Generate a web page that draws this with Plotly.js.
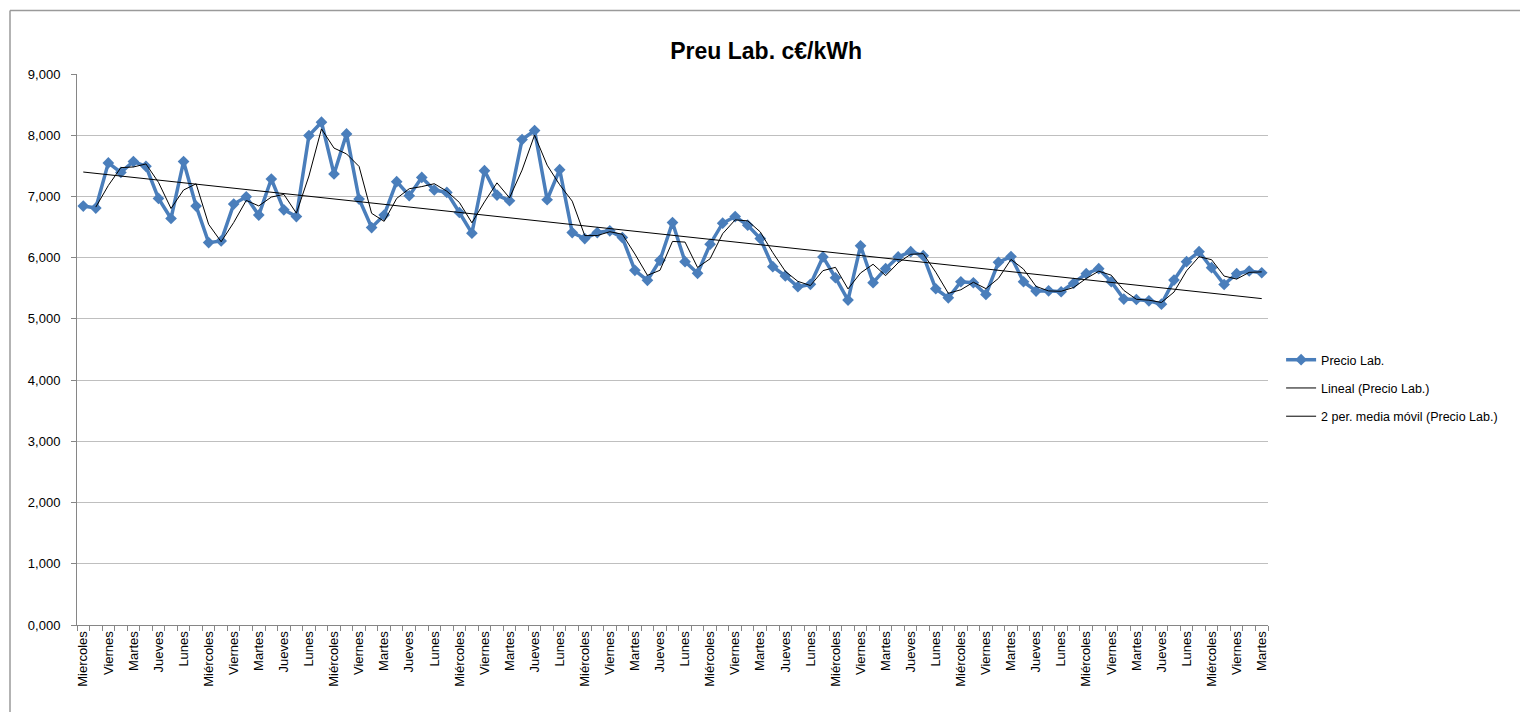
<!DOCTYPE html>
<html>
<head>
<meta charset="utf-8">
<script src="https://cdn.plot.ly/plotly-3.0.1.min.js"></script>
<style>
html,body{margin:0;padding:0;background:#fff;}
#chart{width:1520px;height:712px;}
</style>
</head>
<body>
<div id="chart"></div>
<script>
// Categories (working days), one per data point
const categorias = [
 "Miercoles","Jueves","Viernes","Lunes","Martes",
 "Miércoles","Jueves","Viernes","Lunes","Martes",
 "Miércoles","Jueves","Viernes","Lunes","Martes",
 "Miércoles","Jueves","Viernes","Lunes","Martes",
 "Miércoles","Jueves","Viernes","Lunes","Martes",
 "Miércoles","Jueves","Viernes","Lunes","Martes",
 "Miércoles","Jueves","Viernes","Lunes","Martes",
 "Miércoles","Jueves","Viernes","Lunes","Martes",
 "Miércoles","Jueves","Viernes","Lunes","Martes",
 "Miércoles","Jueves","Viernes","Lunes","Martes",
 "Miércoles","Jueves","Viernes","Lunes","Martes",
 "Miércoles","Jueves","Viernes","Lunes","Martes",
 "Miércoles","Jueves","Viernes","Lunes","Martes",
 "Miércoles","Jueves","Viernes","Lunes","Martes",
 "Miércoles","Jueves","Viernes","Lunes","Martes",
 "Miércoles","Jueves","Viernes","Lunes","Martes",
 "Miércoles","Jueves","Viernes","Lunes","Martes",
 "Miércoles","Jueves","Viernes","Lunes","Martes",
 "Miércoles","Jueves","Viernes","Lunes","Martes"
];

// Precio Lab. (c€/kWh)
const precioLab = [
 6.843, 6.810, 7.548, 7.393, 7.570, 7.492, 6.967, 6.640, 7.570, 6.843,
 6.246, 6.274, 6.875, 6.995, 6.695, 7.285, 6.782, 6.672, 7.995, 8.213,
 7.367, 8.022, 6.957, 6.492, 6.695, 7.241, 7.011, 7.311, 7.105, 7.066,
 6.738, 6.400, 7.421, 7.023, 6.930, 7.929, 8.076, 6.946, 7.437, 6.410,
 6.312, 6.410, 6.438, 6.328, 5.793, 5.630, 5.957, 6.574, 5.935, 5.744,
 6.220, 6.563, 6.672, 6.530, 6.312, 5.853, 5.701, 5.525, 5.564, 6.012,
 5.672, 5.307, 6.193, 5.592, 5.820, 6.012, 6.098, 6.033, 5.492, 5.344,
 5.607, 5.590, 5.399, 5.925, 6.018, 5.607, 5.454, 5.459, 5.443, 5.582,
 5.738, 5.820, 5.607, 5.323, 5.317, 5.295, 5.241, 5.634, 5.934, 6.098,
 5.836, 5.562, 5.738, 5.782, 5.754
];

const yTicks = [0,1,2,3,4,5,6,7,8,9];

const idx = precioLab.map((_, i) => i);

// Linear trendline (least squares, as Excel's "Lineal")
const n = precioLab.length;
const mx = idx.reduce((a,b)=>a+b,0)/n;
const my = precioLab.reduce((a,b)=>a+b,0)/n;
let sxy = 0, sxx = 0;
for (let i=0;i<n;i++){ sxy += (idx[i]-mx)*(precioLab[i]-my); sxx += (idx[i]-mx)*(idx[i]-mx); }
const slope = sxy/sxx, inter = my - slope*mx;
const trendX = [idx[0], idx[n-1]];
const trendY = trendX.map(x => inter + slope*x);

// 2-period moving average
const maX = [], maY = [];
for (let i=1;i<n;i++){ maX.push(i); maY.push((precioLab[i-1]+precioLab[i])/2); }

const tickIdx = idx.filter(i => i % 2 === 0);
const tickTxt = tickIdx.map(i => categorias[i]);

const FONT = "Liberation Sans, Arial, sans-serif";

const traces = [
 {
  x: idx, y: precioLab, type: 'scatter', mode: 'lines+markers',
  name: 'Precio Lab.', legendgroup: 'a',
  line: {color: '#4a7ebb', width: 3.5},
  marker: {symbol: 'diamond', size: 9, color: '#4a7ebb'}
 },
 {
  x: trendX, y: trendY, type: 'scatter', mode: 'lines',
  name: 'Lineal (Precio Lab.)', legendgroup: 'b',
  line: {color: '#000000', width: 1}
 },
 {
  x: maX, y: maY, type: 'scatter', mode: 'lines',
  name: '2 per. media móvil (Precio Lab.)', legendgroup: 'c',
  line: {color: '#000000', width: 1}
 }
];

const layout = {
 width: 1520, height: 712,
 margin: {l: 77, r: 252, t: 74, b: 87},
 paper_bgcolor: '#ffffff', plot_bgcolor: '#ffffff',
 separators: ',.',
 font: {family: FONT, size: 13, color: '#000000'},
 title: {
  text: '<b>Preu Lab. c€/kWh</b>',
  font: {family: FONT, size: 23, color: '#000000'},
  x: 0.504, xref: 'container', xanchor: 'center',
  y: 0.928, yref: 'container', yanchor: 'middle'
 },
 showlegend: true,
 legend: {
  x: 1.011, xanchor: 'left', y: 0.508, yanchor: 'top',
  font: {family: FONT, size: 12.5, color: '#000000'},
  traceorder: 'grouped', tracegroupgap: 9,
  bgcolor: 'rgba(0,0,0,0)', borderwidth: 0
 },
 xaxis: {
  type: 'linear', range: [-0.5, n - 0.5],
  tickmode: 'array', tickvals: tickIdx, ticktext: tickTxt,
  tickangle: -90, ticks: '', showgrid: false, zeroline: false,
  showline: true, linecolor: '#868686', linewidth: 1,
  tickfont: {family: FONT, size: 13, color: '#000000'},
  minor: {tickmode: 'linear', tick0: -0.5, dtick: 1, ticks: 'outside', ticklen: 5, tickcolor: '#868686', showgrid: false}
 },
 yaxis: {
  range: [0, 9], tickmode: 'array', tickvals: yTicks, tickformat: '.3f',
  ticks: 'outside', ticklen: 5, tickcolor: '#868686', ticklabelstandoff: 8,
  showgrid: true, gridcolor: '#bfbfbf', gridwidth: 1, zeroline: false,
  showline: true, linecolor: '#868686', linewidth: 1,
  tickfont: {family: FONT, size: 13, color: '#000000'}
 },
 shapes: [
  {type: 'line', xref: 'paper', yref: 'paper', x0: (10-77)/1191, x1: 1.3, y0: (625-10.5)/551, y1: (625-10.5)/551, line: {color: '#9a9a9a', width: 1.5}},
  {type: 'line', xref: 'paper', yref: 'paper', x0: (10-77)/1191, x1: (10-77)/1191, y0: (625-10.5)/551, y1: -0.3, line: {color: '#9a9a9a', width: 1.5}}
 ]
};

Plotly.newPlot('chart', traces, layout, {displayModeBar: false, staticPlot: true});
</script>
</body>
</html>
